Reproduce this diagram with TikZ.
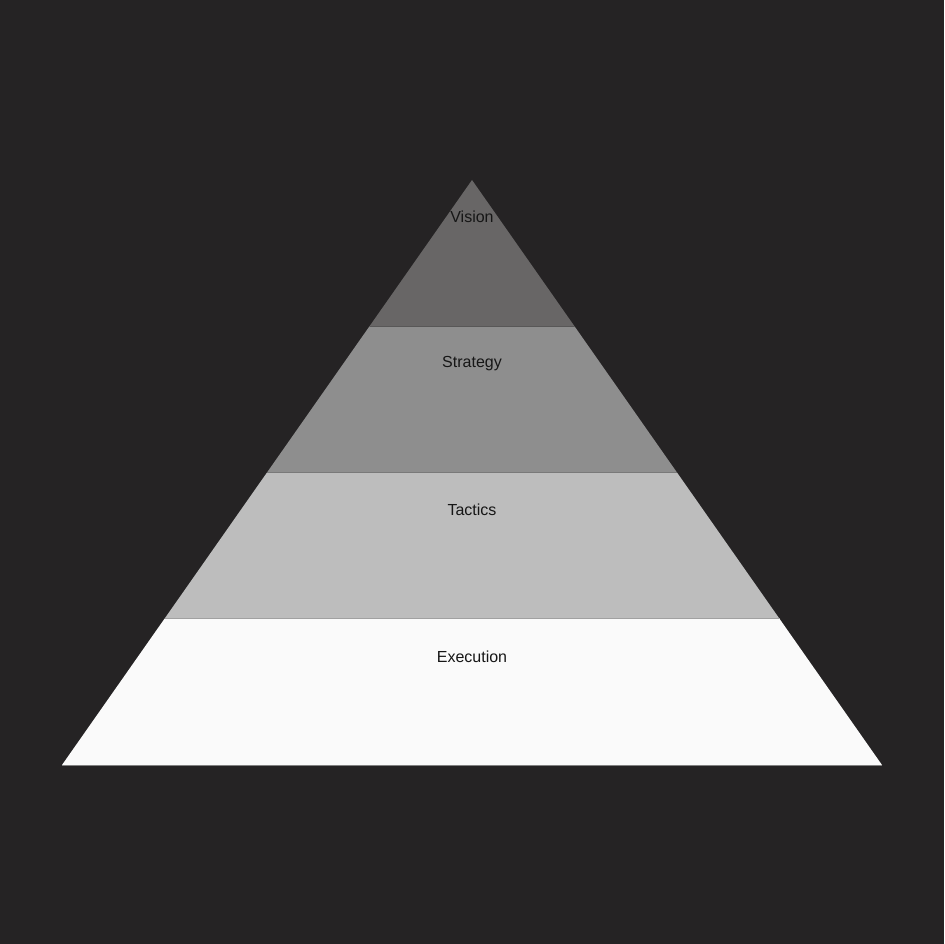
\documentclass[tikz,border=0pt]{standalone}
\usepackage{fontspec}
\setmainfont{Liberation Sans}
\usetikzlibrary{positioning}
\definecolor{pybg}{RGB}{37,35,36}
\definecolor{pyvision}{RGB}{104,102,102}
\definecolor{pystrategy}{RGB}{142,142,142}
\definecolor{pytactics}{RGB}{189,189,189}
\definecolor{pyexecution}{RGB}{250,250,250}
\definecolor{pytext}{RGB}{22,22,22}
\tikzstyle{layer} = [draw=pybg!40!gray, line width=0.6pt, line join=round]
\tikzstyle{label} = [text=pytext, font=\fontsize{16}{19}\selectfont, inner sep=0pt]

\begin{document}
\begin{tikzpicture}[x=1pt, y=-1pt]
% Background
\fill[pybg] (0,0) rectangle (944,944);
\useasboundingbox (0,0) rectangle (944,944);

% Corner points of the layers
\coordinate (apex) at (472,180);
\coordinate (s1l) at (369.5,326.25);
\coordinate (s1r) at (574.5,326.25);
\coordinate (s2l) at (267,472.5);
\coordinate (s2r) at (677,472.5);
\coordinate (s3l) at (164.5,618.75);
\coordinate (s3r) at (779.5,618.75);
\coordinate (basel) at (62,765);
\coordinate (baser) at (882,765);

% Layers
\fill[pyvision] (apex) -- (s1r) -- (s1l) -- cycle;
\fill[pystrategy] (s1l) -- (s1r) -- (s2r) -- (s2l) -- cycle;
\fill[pytactics] (s2l) -- (s2r) -- (s3r) -- (s3l) -- cycle;
\fill[pyexecution] (s3l) -- (s3r) -- (baser) -- (basel) -- cycle;
\draw[layer, draw=pyvision!85!black] (s1l) -- (s1r);
\draw[layer, draw=pystrategy!85!black] (s2l) -- (s2r);
\draw[layer, draw=pytactics!85!black] (s3l) -- (s3r);
\draw[layer, draw=gray] (basel) -- (baser);

% Labels
\node (vision) [label] at (472,217) {Vision};
\node (strategy) [label] at (472,363.5) {Strategy};
\node (tactics) [label] at (472,510) {Tactics};
\node (execution) [label] at (472,657) {Execution};
\end{tikzpicture}
\end{document}
